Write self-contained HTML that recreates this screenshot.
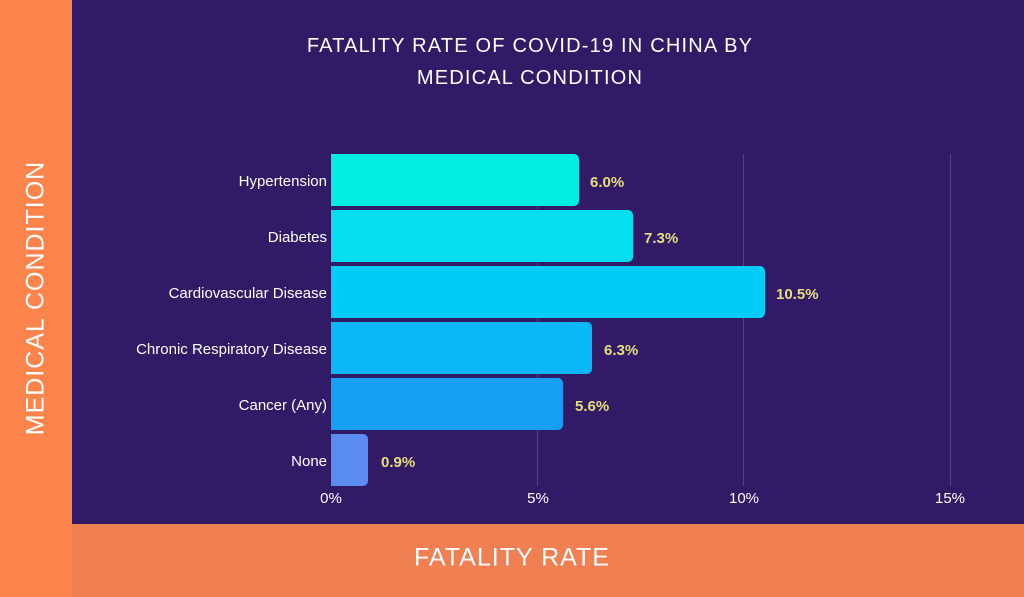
<!DOCTYPE html>
<html><head><meta charset="utf-8"><style>
body{margin:0;width:1024px;height:597px;overflow:hidden;background:#311a66;font-family:"Liberation Sans",sans-serif;position:relative}
.l{position:absolute;left:0;top:0;width:72px;height:597px;background:#fe844b}
.b{position:absolute;left:72px;top:524px;width:952px;height:73px;background:#f07f52}
.yt{position:absolute;left:36px;top:298px;transform:translate(-50%,-50%) rotate(-90deg);color:#fff;font-size:25px;letter-spacing:1px;white-space:nowrap}
.xt{position:absolute;left:512px;top:558px;transform:translate(-50%,-50%);color:#fff;font-size:25px;letter-spacing:1px}
.t{position:absolute;left:280px;top:30px;width:500px;text-align:center;color:#fff;font-size:20px;line-height:32px;letter-spacing:1.2px}
.g{position:absolute;top:154px;height:332px;width:1px;background:#54408a}
.bar{position:absolute;left:331px;height:52px;border-radius:0 5px 5px 0}
.c{position:absolute;right:697px;color:#fff;font-size:15px;line-height:52px;white-space:nowrap}
.v{position:absolute;color:#e6df7a;font-size:15px;font-weight:bold;line-height:52px}
.tk{position:absolute;top:490px;color:#fff;font-size:15px;transform:translateX(-50%)}
</style></head><body>
<div class="l"></div><div class="b"></div>
<div class="yt">MEDICAL CONDITION</div>
<div class="xt">FATALITY RATE</div>
<div class="t">FATALITY RATE OF COVID-19 IN CHINA BY<br>MEDICAL CONDITION</div>
<div class="g" style="left:537px"></div><div class="g" style="left:743px"></div><div class="g" style="left:950px"></div>
<div class="bar" style="top:154px;width:248px;background:#04ede3"></div>
<div class="bar" style="top:210px;width:302px;background:#03def0"></div>
<div class="bar" style="top:266px;width:434px;background:#00cdf7"></div>
<div class="bar" style="top:322px;width:261px;background:#07b7f6"></div>
<div class="bar" style="top:378px;width:232px;background:#15a0f4"></div>
<div class="bar" style="top:434px;width:37px;background:#5a8bf0"></div>
<div class="c" style="top:156px">Hypertension</div>
<div class="c" style="top:212px">Diabetes</div>
<div class="c" style="top:268px">Cardiovascular Disease</div>
<div class="c" style="top:324px">Chronic Respiratory Disease</div>
<div class="c" style="top:380px">Cancer (Any)</div>
<div class="c" style="top:436px">None</div>
<div class="v" style="top:157px;left:590px">6.0%</div>
<div class="v" style="top:213px;left:644px">7.3%</div>
<div class="v" style="top:269px;left:776px">10.5%</div>
<div class="v" style="top:325px;left:604px">6.3%</div>
<div class="v" style="top:381px;left:575px">5.6%</div>
<div class="v" style="top:437px;left:381px">0.9%</div>
<div class="tk" style="left:331px">0%</div>
<div class="tk" style="left:538px">5%</div>
<div class="tk" style="left:744px">10%</div>
<div class="tk" style="left:950px">15%</div>
</body></html>
